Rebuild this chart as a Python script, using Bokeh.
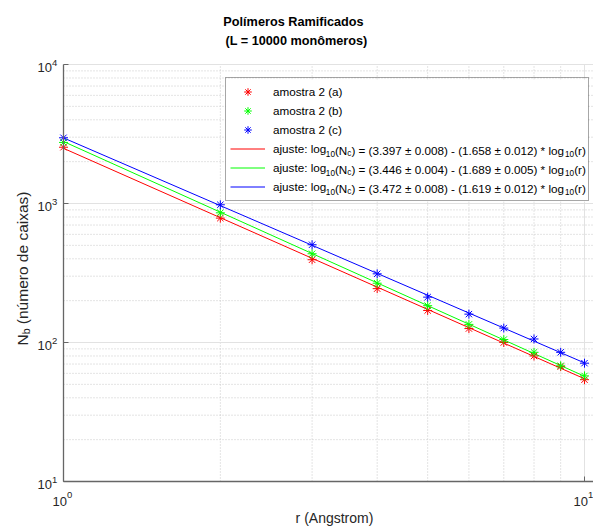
import math
from bokeh.plotting import figure
from bokeh.models import Range1d, Label, Legend, LegendItem, BoxAnnotation
from bokeh.embed import file_html
from bokeh.resources import INLINE

# ---------------- data ----------------
r = [1, 2, 3, 4, 5, 6, 7, 8, 9, 10]
amostra_a = [2540, 785, 394, 244, 170, 126, 100, 80, 67, 54]
amostra_b = [2750, 857, 435, 267, 184, 135, 105, 85, 68, 57.5]
amostra_c = [2970, 979, 505, 312, 212, 160, 127, 106, 85, 71]
series_names = ["amostra 2 (a)", "amostra 2 (b)", "amostra 2 (c)"]
series_colors = ["#ff0000", "#00ff00", "#0000ff"]
fit_intercept = [3.397, 3.446, 3.472]
fit_intercept_err = [0.008, 0.004, 0.008]
fit_slope = [1.658, 1.689, 1.619]
fit_slope_err = [0.012, 0.005, 0.012]

x_ticks = [1, 10]
x_tick_exp = ["0", "1"]
x_minor = [2, 3, 4, 5, 6, 7, 8, 9]
y_ticks = [10, 100, 1000, 10000]
y_tick_exp = ["1", "2", "3", "4"]
y_minor = [20, 30, 40, 50, 60, 70, 80, 90,
           200, 300, 400, 500, 600, 700, 800, 900,
           2000, 3000, 4000, 5000, 6000, 7000, 8000, 9000]

title_lines = ["Polímeros Ramificados", "(L = 10000 monômeros)"]
x_label = "r (Angstrom)"
y_label_main, y_label_sub, y_label_rest = "N", "b", "(número de caixas)"

# ---------------- style / layout (pixels of the page) ----------------
FONT = "Liberation Sans"
TXT = "#262626"
AXC = "#666666"
W, H = 593, 527
PL, PT, PB, PX10 = 63, 64, 481, 584   # plot-area left/top/bottom, x of last x tick

lx0, lx1 = math.log10(x_ticks[0]), math.log10(x_ticks[-1])
ly0, ly1 = math.log10(y_ticks[0]), math.log10(y_ticks[-1])
XD = (PX10 - PL) / (lx1 - lx0)        # px per decade
YD = (PB - PT) / (ly1 - ly0)
x_start = 10 ** (lx0 - PL / XD)
x_end = 10 ** (lx0 + (W - PL) / XD)
y_start = 10 ** (ly0 - (H - PB) / YD)
y_end = 10 ** (ly1 + PT / YD)

# Arial / Liberation Sans advance widths (per 1000 em)
AW = {' ': 278, '(': 333, ')': 333, '*': 389, '-': 333, '.': 278, ':': 278,
      '=': 584, '±': 584, 'a': 556, 'b': 556, 'c': 500, 'd': 556, 'e': 556,
      'g': 556, 'i': 222, 'j': 222, 'l': 222, 'm': 833, 'n': 556, 'o': 556,
      'r': 333, 's': 500, 't': 278, 'u': 556, 'x': 500, 'ú': 556, 'N': 722}


def tw(s, size):
    return sum(AW.get(ch, 556) for ch in s) / 1000.0 * size


def sy(Y):
    return H - Y


p = figure(width=W, height=H, x_axis_type="log", y_axis_type="log",
           x_axis_location=None, y_axis_location=None, title_location=None,
           x_range=Range1d(x_start, x_end), y_range=Range1d(y_start, y_end),
           output_backend="svg", toolbar_location=None)
p.min_border = 0
p.outline_line_color = None
p.background_fill_color = "white"
p.border_fill_color = "white"
for g in p.grid:
    g.visible = False

# ---------------- grid ----------------
xr0, xr1 = x_ticks[0], x_end
yr0, yr1 = y_ticks[0], y_ticks[-1]
p.segment(x0=x_minor, y0=[yr0] * len(x_minor), x1=x_minor, y1=[yr1] * len(x_minor),
          line_color="#c8c8c8", line_width=1, line_dash="1 2")
p.segment(x0=[xr0] * len(y_minor), y0=y_minor, x1=[xr1] * len(y_minor), y1=y_minor,
          line_color="#c8c8c8", line_width=1, line_dash="1 2")
p.segment(x0=x_ticks[1:], y0=[yr0] * (len(x_ticks) - 1), x1=x_ticks[1:], y1=[yr1] * (len(x_ticks) - 1),
          line_color="#e2e2e2", line_width=1)
p.segment(x0=[xr0] * (len(y_ticks) - 1), y0=y_ticks[1:], x1=[xr1] * (len(y_ticks) - 1), y1=y_ticks[1:],
          line_color="#e2e2e2", line_width=1)

# ---------------- data glyphs ----------------
series = [amostra_a, amostra_b, amostra_c]
pts, lines = [], []
for i, ys in enumerate(series):
    fit_y = [10 ** (fit_intercept[i] - fit_slope[i] * math.log10(x)) for x in r]
    lines.append(p.line(r, fit_y, line_color=series_colors[i], line_width=1))
for i, ys in enumerate(series):
    pts.append(p.scatter(r, ys, marker="asterisk", size=9, line_color=series_colors[i], line_width=1))

# ---------------- axes (lines + inward ticks) ----------------
p.segment(x0=[xr0, xr0], y0=[yr0, yr0], x1=[xr0, xr1], y1=[yr1, yr0], line_color=AXC, line_width=1.3)
tick_x = 10 ** (lx0 + 5 / XD)
tick_y = 10 ** (ly0 + 5 / YD)
p.segment(x0=[xr0] * len(y_ticks), y0=y_ticks, x1=[tick_x] * len(y_ticks), y1=y_ticks,
          line_color=AXC, line_width=1)
p.segment(x0=x_ticks, y0=[yr0] * len(x_ticks), x1=x_ticks, y1=[tick_y] * len(x_ticks),
          line_color=AXC, line_width=1)

# ---------------- legend ----------------
LEG_LEFT, LEG_BOTTOM, LEG_RIGHT = 225, 201, 587
LFS, SFS = 11.7, 8.2
PAD, GW, GH, SP, STANDOFF = 4, 35, 19, 0, 8
items = [LegendItem(label=series_names[i], renderers=[pts[i]]) for i in range(3)]
items += [LegendItem(label="ajuste: log", renderers=[lines[i]]) for i in range(3)]
text_x0 = LEG_LEFT + PAD + GW + STANDOFF
n_items = len(items)
leg_h = 2 * PAD + n_items * GH + (n_items - 1) * SP
leg_top = sy(LEG_BOTTOM) + leg_h

# white background of the legend box (drawn below the legend texts)
p.add_layout(BoxAnnotation(left=LEG_LEFT, right=LEG_RIGHT, bottom=sy(LEG_BOTTOM), top=leg_top,
                           left_units="screen", right_units="screen",
                           bottom_units="screen", top_units="screen",
                           fill_color="white", fill_alpha=1, line_color=None))

legend = Legend(items=items, location=(LEG_LEFT, sy(LEG_BOTTOM)), margin=0,
                padding=PAD, spacing=SP, glyph_width=GW, glyph_height=GH,
                label_height=GH, label_standoff=STANDOFF,
                label_width=LEG_RIGHT - PAD - text_x0,
                border_line_color="#505050", border_line_width=1,
                background_fill_alpha=0,
                label_text_font=FONT, label_text_font_size=f"{LFS}px",
                label_text_color="black")
p.add_layout(legend)

for j in range(3):
    row_y = leg_top - PAD - GH / 2 - (3 + j) * (GH + SP)
    main_txt = ") = (%.3f ± %.3f) - (%.3f ± %.3f) * log" % (
        fit_intercept[j], fit_intercept_err[j], fit_slope[j], fit_slope_err[j])
    pieces = [("10", True), ("(N", False), ("c", True), (main_txt, False), ("10", True), ("(r)", False)]
    x = text_x0 + tw("ajuste: log", LFS)
    for txt, sub in pieces:
        size = SFS if sub else LFS
        p.add_layout(Label(x=x, y=row_y - (3.5 if sub else 0), x_units="screen", y_units="screen",
                           text=txt, text_align="left", text_baseline="middle",
                           text_font=FONT, text_font_size=f"{size}px", text_color="black"))
        x += tw(txt, size)

# ---------------- tick labels ----------------
for v, e in zip(y_ticks, y_tick_exp):
    p.add_layout(Label(x=PL - 11.5, y=v, x_units="screen", y_units="data", text="10",
                       text_align="right", text_baseline="middle", y_offset=-2.5,
                       text_font=FONT, text_font_size="13px", text_color=TXT))
    p.add_layout(Label(x=PL - 11.5, y=v, x_units="screen", y_units="data", text=e,
                       text_align="left", text_baseline="middle", y_offset=2,
                       text_font=FONT, text_font_size="9.5px", text_color=TXT))
for v, e in zip(x_ticks, x_tick_exp):
    p.add_layout(Label(x=v, y=sy(501), x_units="data", y_units="screen", text="10",
                       text_align="right", text_baseline="middle", x_offset=3.5,
                       text_font=FONT, text_font_size="13px", text_color=TXT))
    p.add_layout(Label(x=v, y=sy(494), x_units="data", y_units="screen", text=e,
                       text_align="left", text_baseline="middle", x_offset=3.5,
                       text_font=FONT, text_font_size="9.5px", text_color=TXT))

# ---------------- title and axis labels ----------------
p.add_layout(Label(x=293, y=sy(21), x_units="screen", y_units="screen", text=title_lines[0],
                   text_align="center", text_baseline="middle", text_font=FONT,
                   text_font_size="12.7px", text_font_style="bold", text_color="black"))
p.add_layout(Label(x=296, y=sy(40), x_units="screen", y_units="screen", text=title_lines[1],
                   text_align="center", text_baseline="middle", text_font=FONT,
                   text_font_size="12.7px", text_font_style="bold", text_color="black"))
p.add_layout(Label(x=334, y=sy(517), x_units="screen", y_units="screen", text=x_label,
                   text_align="center", text_baseline="middle", text_font=FONT,
                   text_font_size="14px", text_color=TXT))

YLS, YSS = 15.5, 10.5
lyp = sy(345)
p.add_layout(Label(x=22, y=lyp, x_units="screen", y_units="screen", text=y_label_main,
                   angle=math.pi / 2, text_align="left", text_baseline="middle",
                   text_font=FONT, text_font_size=f"{YLS}px", text_color=TXT))
lyp += tw(y_label_main, YLS)
p.add_layout(Label(x=25.5, y=lyp, x_units="screen", y_units="screen", text=y_label_sub,
                   angle=math.pi / 2, text_align="left", text_baseline="middle",
                   text_font=FONT, text_font_size=f"{YSS}px", text_color=TXT))
lyp += tw(y_label_sub, YSS) + tw(" ", YLS)
p.add_layout(Label(x=22, y=lyp, x_units="screen", y_units="screen", text=y_label_rest,
                   angle=math.pi / 2, text_align="left", text_baseline="middle",
                   text_font=FONT, text_font_size=f"{YLS}px", text_color=TXT))

open("out.html", "w").write(file_html(p, INLINE))
